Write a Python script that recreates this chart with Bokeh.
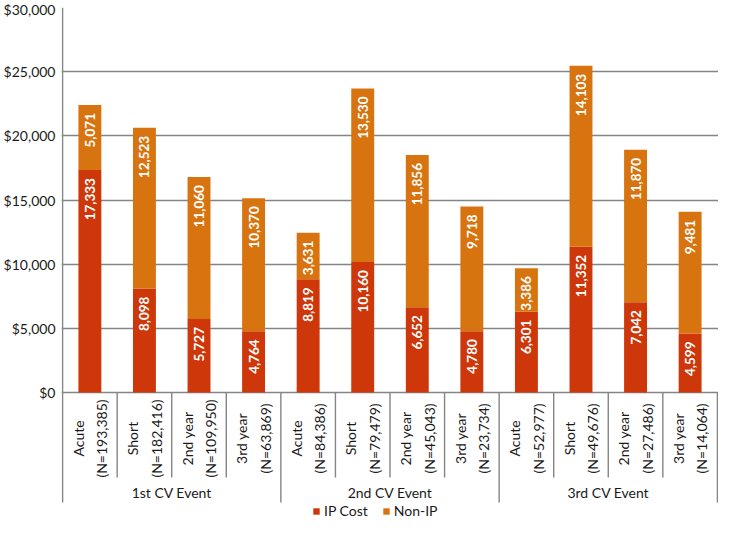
import math
from bokeh.plotting import figure
from bokeh.models import (Range1d, FixedTicker, NumeralTickFormatter, Legend,
                          LegendItem, ColumnDataSource)
from bokeh.core.properties import value
from bokeh.embed import file_html
from bokeh.resources import INLINE

# ---- data ----
GROUPS = ["1st CV Event", "2nd CV Event", "3rd CV Event"]
PERIODS = ["Acute", "Short", "2nd year", "3rd year"]
N_COUNTS = [193385, 182416, 109950, 63869,
            84386, 79479, 45043, 23734,
            52977, 49676, 27486, 14064]
IP_COST = [17333, 8098, 5727, 4764,
           8819, 10160, 6652, 4780,
           6301, 11352, 7042, 4599]
NON_IP = [5071, 12523, 11060, 10370,
          3631, 13530, 11856, 9718,
          3386, 14103, 11870, 9481]
Y_TICKS = [0, 5000, 10000, 15000, 20000, 25000, 30000]

IP_COLOR = "#CD370A"
NONIP_COLOR = "#D8740F"
LINE_COLOR = "#858585"
FONT = "Lato"

# ---- layout in pixels ----
W, H = 718, 519
TOP_PAD = 7
PLOT_PX = 385          # pixels from 0 to 30000
BELOW_PX = H - TOP_PAD - PLOT_PX
YMAX = Y_TICKS[-1]
Y_PER_PX = YMAX / PLOT_PX

n = len(IP_COST)
xc = [i + 0.5 for i in range(n)]
tops = [a + b for a, b in zip(IP_COST, NON_IP)]
cat_labels = [f"{PERIODS[i % 4]}\n(N={N_COUNTS[i]:,})" for i in range(n)]

p = figure(width=W, height=H, output_backend="svg", toolbar_location=None,
           x_range=Range1d(-0.02, n + 0.02),
           y_range=Range1d(-BELOW_PX * Y_PER_PX, YMAX),
           x_axis_location=None, min_border_left=60, min_border_right=0,
           min_border_top=TOP_PAD, min_border_bottom=0)
p.outline_line_color = None
p.background_fill_color = "white"
p.xgrid.visible = False
p.ygrid.ticker = FixedTicker(ticks=Y_TICKS)
p.ygrid.grid_line_color = LINE_COLOR
p.ygrid.grid_line_width = 1.4

ax = p.yaxis[0]
ax.ticker = FixedTicker(ticks=Y_TICKS)
ax.formatter = NumeralTickFormatter(format="$0,0")
ax.axis_line_color = None
ax.major_tick_line_color = None
ax.minor_tick_line_color = None
ax.major_tick_out = 0
ax.major_tick_in = 0
ax.minor_tick_out = 0
ax.minor_tick_in = 0
ax.major_label_text_font = FONT
ax.major_label_text_font_size = "14px"
ax.major_label_text_color = "#1a1a1a"
ax.major_label_standoff = 6

src = ColumnDataSource(dict(x=xc, ip=IP_COST, non=NON_IP, top=tops,
                            ip_txt=[f"{v:,}" for v in IP_COST],
                            non_txt=[f"{v:,}" for v in NON_IP],
                            cat=cat_labels))

r_ip = p.vbar(x="x", bottom=0, top="ip", width=0.42, source=src,
              fill_color=IP_COLOR, line_color=None)
r_non = p.vbar(x="x", bottom="ip", top="top", width=0.42, source=src,
               fill_color=NONIP_COLOR, line_color=None)

for ycol, tcol in (("ip", "ip_txt"), ("top", "non_txt")):
    p.text(x="x", y=ycol, text=tcol, source=src, angle=math.pi / 2,
           text_align="right", text_baseline="middle", y_offset=8,
           text_color="white", text_font=value(FONT), text_font_style="bold",
           text_font_size="13.5px")

# separators below axis
minor_bottom = -85 * Y_PER_PX
major_bottom = -110 * Y_PER_PX
sx, sy0, sy1 = [], [], []
for b in range(n + 1):
    sx.append(b)
    sy0.append(YMAX if b == 0 else 0)
    sy1.append(major_bottom if b % 4 == 0 else minor_bottom)
p.segment(x0=sx, y0=sy0, x1=sx, y1=sy1, line_color=LINE_COLOR, line_width=1.4)

# category labels
p.text(x="x", y=-46 * Y_PER_PX, text="cat", source=src, angle=math.pi / 2,
       text_align="center", text_baseline="middle", text_line_height=1.38,
       text_color="#1a1a1a", text_font=value(FONT), text_font_size="14px")

# group labels
gx = [4 * g + 2 for g in range(len(GROUPS))]
p.text(x=gx, y=[-100 * Y_PER_PX] * len(GROUPS), text=GROUPS,
       text_align="center", text_baseline="middle", text_color="#1a1a1a",
       text_font=value(FONT), text_font_size="14px")

legend = Legend(items=[LegendItem(label="IP Cost", renderers=[r_ip]),
                       LegendItem(label="Non-IP", renderers=[r_non])],
                orientation="horizontal", location=(251, 0),
                glyph_width=8, glyph_height=8, label_standoff=4, spacing=14,
                padding=0, margin=0, label_height=14,
                label_text_font=FONT, label_text_font_size="14px",
                label_text_color="#1a1a1a",
                background_fill_alpha=0, border_line_color=None)
p.add_layout(legend)

open("out.html", "w").write(file_html(p, INLINE))
